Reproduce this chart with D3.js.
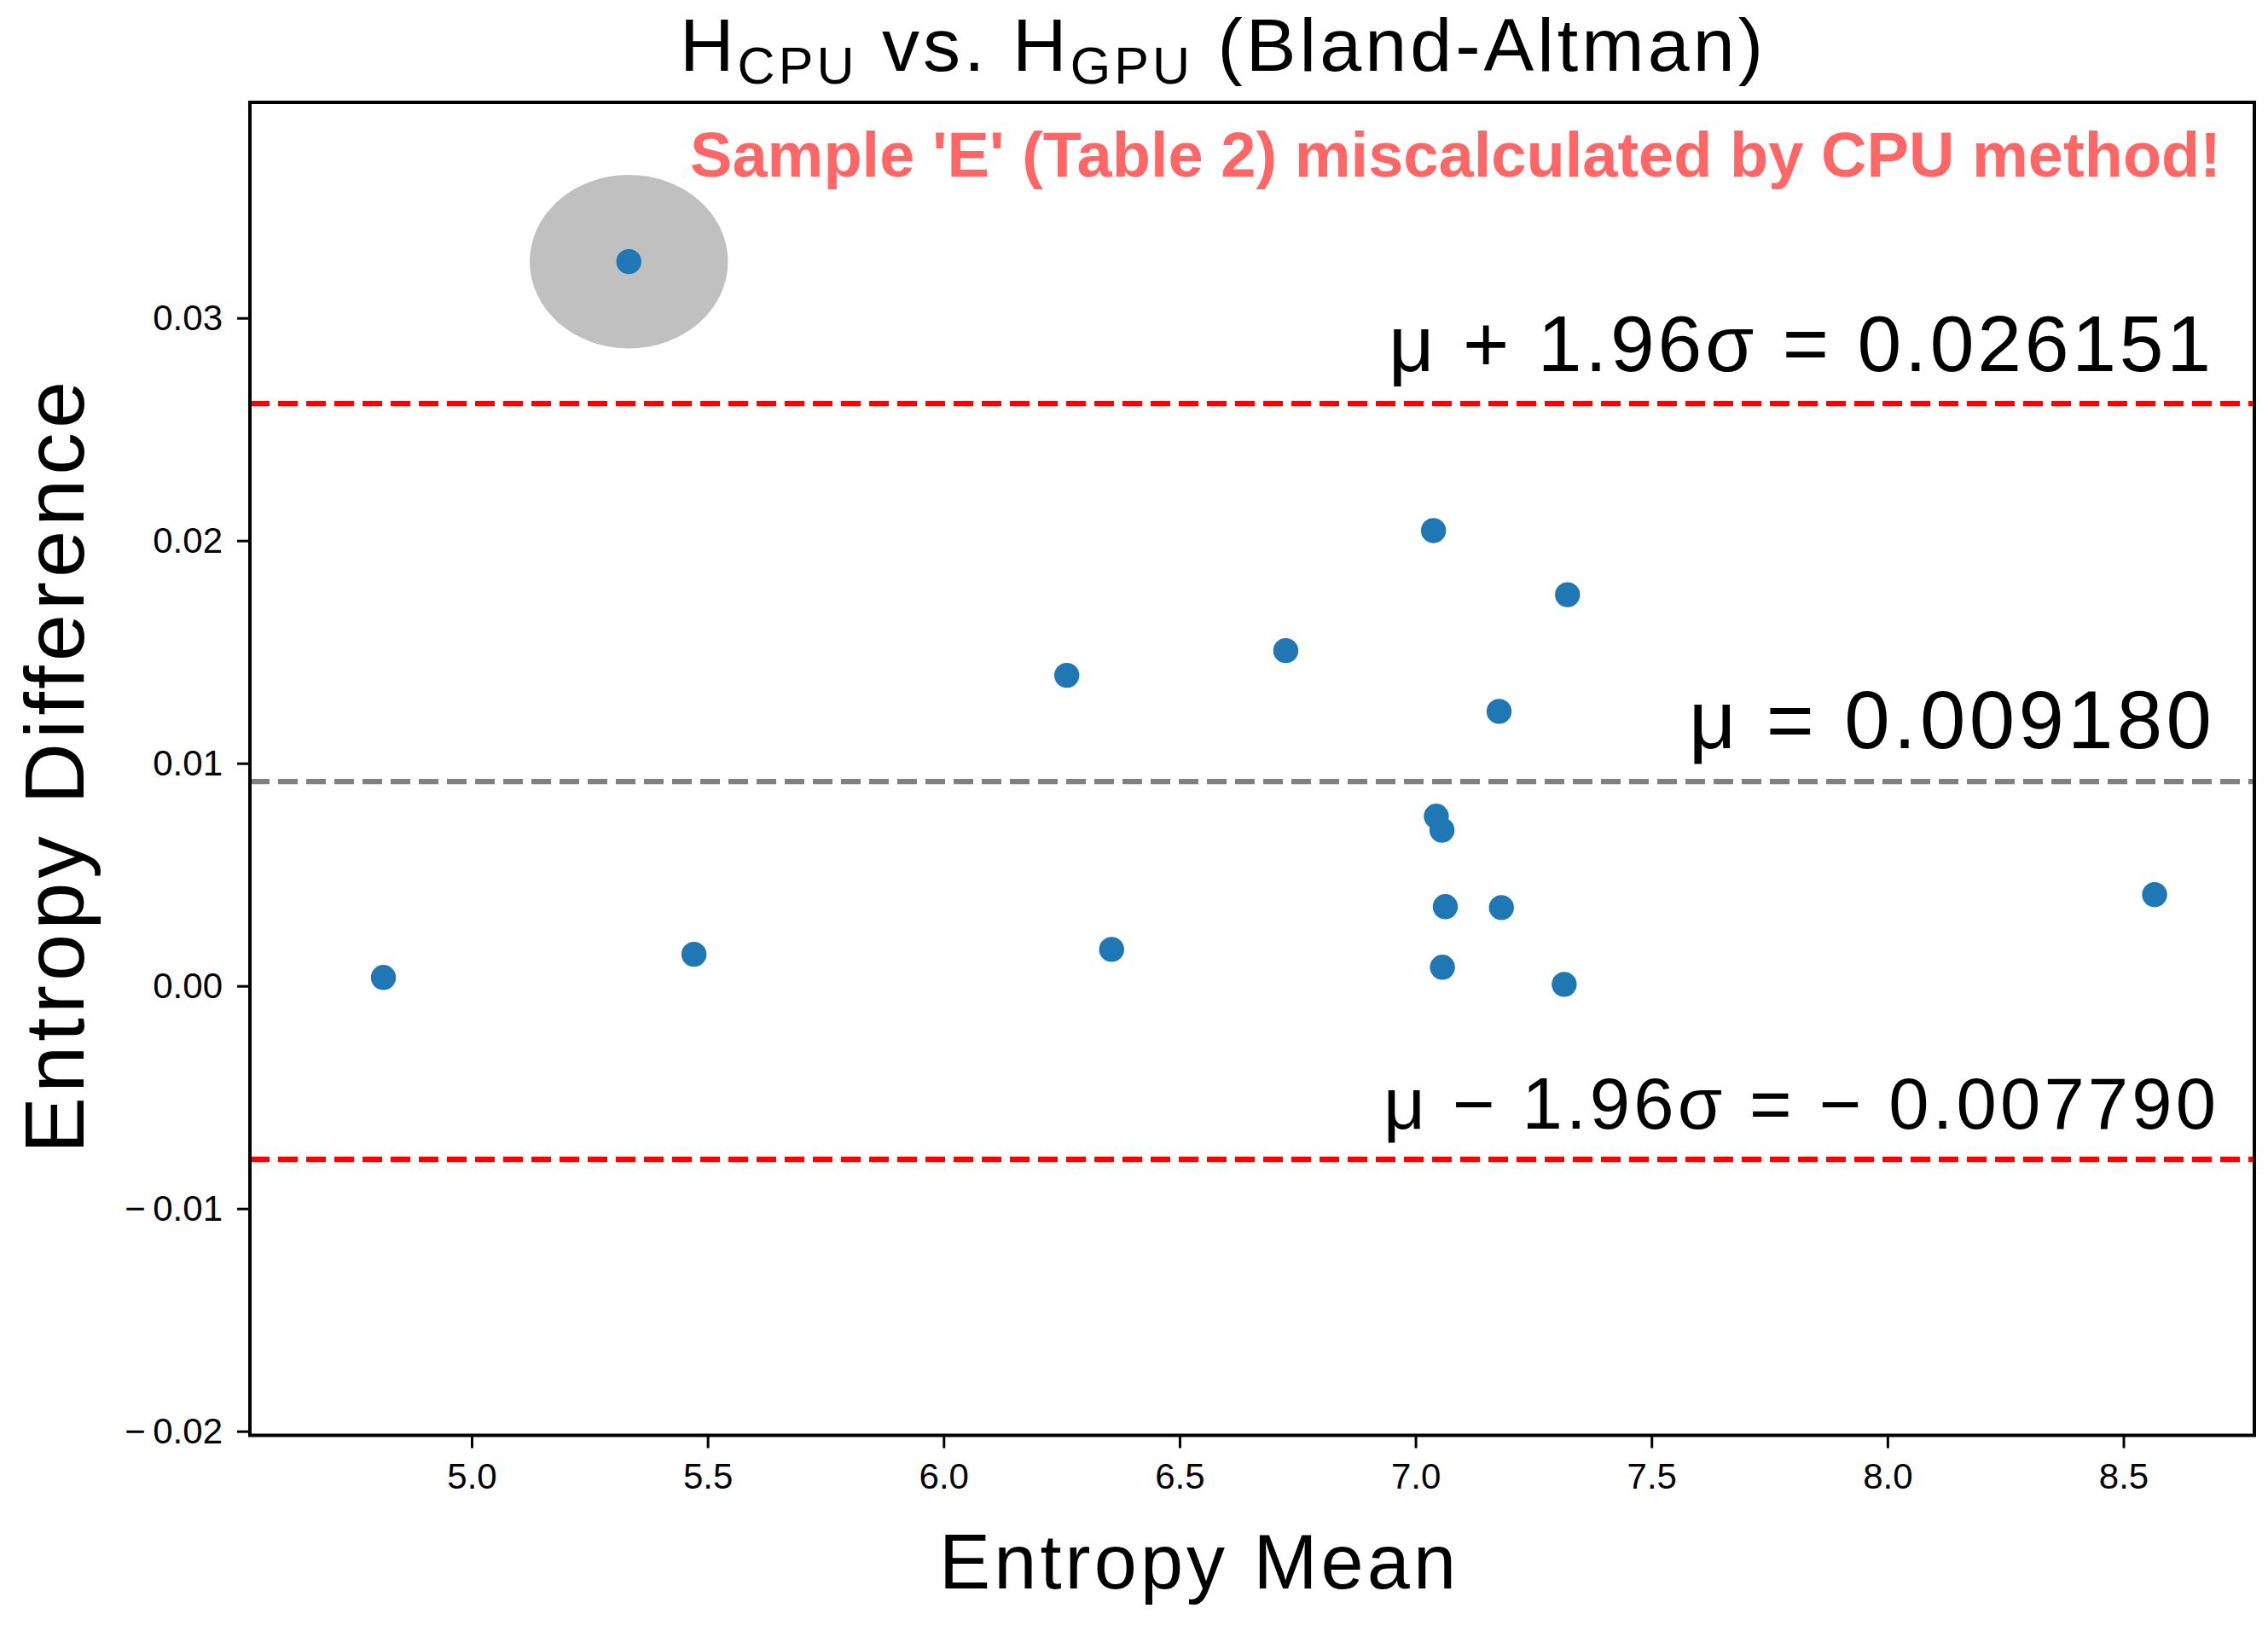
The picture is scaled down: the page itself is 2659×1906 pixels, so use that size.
<!DOCTYPE html>
<html lang="en">
<head>
    <meta charset="utf-8">
    <title>Bland-Altman</title>
    <script src="https://cdn.jsdelivr.net/npm/d3@7/dist/d3.min.js"></script>
    <style>
        body { margin: 0; background: #fff; }
        text { font-family: "Liberation Sans", Arial, Helvetica, sans-serif; }
        .axis path, .axis line { stroke: #000; }
    </style>
</head>
<body>
<script>
    // Data
    var entropyMean = [4.813, 5.333, 5.471, 6.261, 6.356, 6.725, 7.038, 7.044,
                       7.056, 7.057, 7.063, 7.177, 7.182, 7.315, 7.322, 8.566];
    var entropyDiff = [0.00038, 0.03253, 0.00142, 0.01395, 0.00164, 0.01506, 0.02045, 0.00762,
                       0.00700, 0.00084, 0.00356, 0.01233, 0.00352, 0.00007, 0.01757, 0.00410];
    var outlierIndex = 1;          // sample 'E'
    var meanDiff = 0.009180;
    var upperLoA = 0.026151;
    var lowerLoA = -0.007790;
    var xTicks = [5.0, 5.5, 6.0, 6.5, 7.0, 7.5, 8.0, 8.5];
    var yTicks = [-0.02, -0.01, 0.00, 0.01, 0.02, 0.03];
    var xDomain = [4.5301, 8.7774];
    var yDomain = [-0.020184, 0.039682];

    //Width and height
    var w = 2659;
    var h = 1906;
    var plotL = 293, plotR = 2643, plotT = 120, plotB = 1682.5;

    var svg = d3.select("body").append("svg")
        .attr("width", w).attr("height", h);

    svg.append("rect").attr("width", w).attr("height", h).attr("fill", "#fff");

    var x = d3.scaleLinear().domain(xDomain).range([plotL, plotR]);
    var y = d3.scaleLinear().domain(yDomain).range([plotB, plotT]);

    var data = entropyMean.map(function(m, i) { return {mean: m, diff: entropyDiff[i]}; });

    //highlight ellipse round the outlier (size in data units)
    var ellipseW = 0.42, ellipseH = 0.0078;
    var out = data[outlierIndex];
    svg.append("ellipse")
        .attr("cx", x(out.mean))
        .attr("cy", y(out.diff))
        .attr("rx", (x(out.mean + ellipseW / 2) - x(out.mean)))
        .attr("ry", (y(out.diff) - y(out.diff + ellipseH / 2)))
        .attr("fill", "#c0c0c0");

    //reference lines
    var refLines = [
        {v: meanDiff, color: "#808080"},
        {v: upperLoA, color: "#ff0000"},
        {v: lowerLoA, color: "#ff0000"}
    ];
    svg.selectAll("line.ref")
        .data(refLines)
        .enter()
        .append("line")
        .attr("class", "ref")
        .attr("x1", plotL).attr("x2", plotR)
        .attr("y1", function(d) { return y(d.v); })
        .attr("y2", function(d) { return y(d.v); })
        .attr("stroke", function(d) { return d.color; })
        .attr("stroke-width", 6.4)
        .attr("stroke-dasharray", "23,10");

    //points
    svg.selectAll("circle.pt")
        .data(data)
        .enter()
        .append("circle")
        .attr("class", "pt")
        .attr("cx", function(d) { return x(d.mean); })
        .attr("cy", function(d) { return y(d.diff); })
        .attr("r", 14.7)
        .attr("fill", "#1f77b4");

    //axes
    var xAxis = d3.axisBottom(x)
        .tickValues(xTicks)
        .tickFormat(d3.format(".1f"))
        .tickSize(15).tickSizeOuter(0).tickPadding(18);

    var yFmt = d3.format(".2f");
    var yAxis = d3.axisLeft(y)
        .tickValues(yTicks)
        .tickFormat(function(d) { return d < 0 ? "\u2212\u2009" + yFmt(-d) : yFmt(Math.abs(d)); })
        .tickSize(15).tickSizeOuter(0).tickPadding(17);

    var gx = svg.append("g").attr("class", "axis")
        .attr("transform", "translate(0," + plotB + ")")
        .call(xAxis);
    var gy = svg.append("g").attr("class", "axis")
        .attr("transform", "translate(" + plotL + ",0)")
        .call(yAxis);

    [gx, gy].forEach(function(g) {
        g.select(".domain").remove();
        g.selectAll(".tick line").attr("stroke-width", 3);
        g.selectAll(".tick text")
            .attr("fill", "#000")
            .style("font-size", "42px")
            .style("font-family", "'Liberation Sans', Arial, sans-serif");
    });

    //frame
    svg.append("rect")
        .attr("x", plotL).attr("y", plotT)
        .attr("width", plotR - plotL).attr("height", plotB - plotT)
        .attr("fill", "none")
        .attr("stroke", "#000")
        .attr("stroke-width", 4);

    //title with subscripts
    var title = svg.append("text")
        .attr("x", 797).attr("y", 83)
        .attr("textLength", 1270)
        .attr("lengthAdjust", "spacing")
        .style("font-size", "88px")
        .attr("fill", "#000");
    title.append("tspan").text("H");
    title.append("tspan").attr("dy", 15).style("font-size", "61px").text("CPU");
    title.append("tspan").attr("dy", -15).text(" vs. H");
    title.append("tspan").attr("dy", 15).style("font-size", "61px").text("GPU");
    title.append("tspan").attr("dy", -15).text(" (Bland-Altman)");

    //annotation for sample E
    svg.append("text")
        .attr("x", 809).attr("y", 207)
        .attr("textLength", 1795)
        .attr("lengthAdjust", "spacing")
        .style("font-size", "74px")
        .style("font-weight", "bold")
        .attr("fill", "#ff6666")
        .text("Sample 'E' (Table 2) miscalculated by CPU method!");

    //line labels
    var lineLabels = [
        {text: "\u03bc + 1.96\u03c3 = " + upperLoA.toFixed(6), x0: 1628, len: 964, base: 435, size: 93},
        {text: "\u03bc = " + meanDiff.toFixed(6), x0: 1980, len: 613, base: 877, size: 96},
        {text: "\u03bc \u2212 1.96\u03c3 = \u2212 " + Math.abs(lowerLoA).toFixed(6), x0: 1622, len: 976, base: 1323, size: 85}
    ];
    svg.selectAll("text.lbl")
        .data(lineLabels)
        .enter()
        .append("text")
        .attr("class", "lbl")
        .attr("x", function(d) { return d.x0; })
        .attr("y", function(d) { return d.base; })
        .attr("textLength", function(d) { return d.len; })
        .attr("lengthAdjust", "spacing")
        .style("font-size", function(d) { return d.size + "px"; })
        .attr("fill", "#000")
        .text(function(d) { return d.text; });

    //axis labels
    svg.append("text")
        .attr("x", 1101).attr("y", 1862)
        .attr("textLength", 606)
        .attr("lengthAdjust", "spacing")
        .style("font-size", "90px")
        .attr("fill", "#000")
        .text("Entropy Mean");

    svg.append("text")
        .attr("transform", "translate(98,1352) rotate(-90)")
        .attr("x", 0).attr("y", 0)
        .attr("textLength", 905)
        .attr("lengthAdjust", "spacing")
        .style("font-size", "99px")
        .attr("fill", "#000")
        .text("Entropy Difference");
</script>
</body>
</html>
